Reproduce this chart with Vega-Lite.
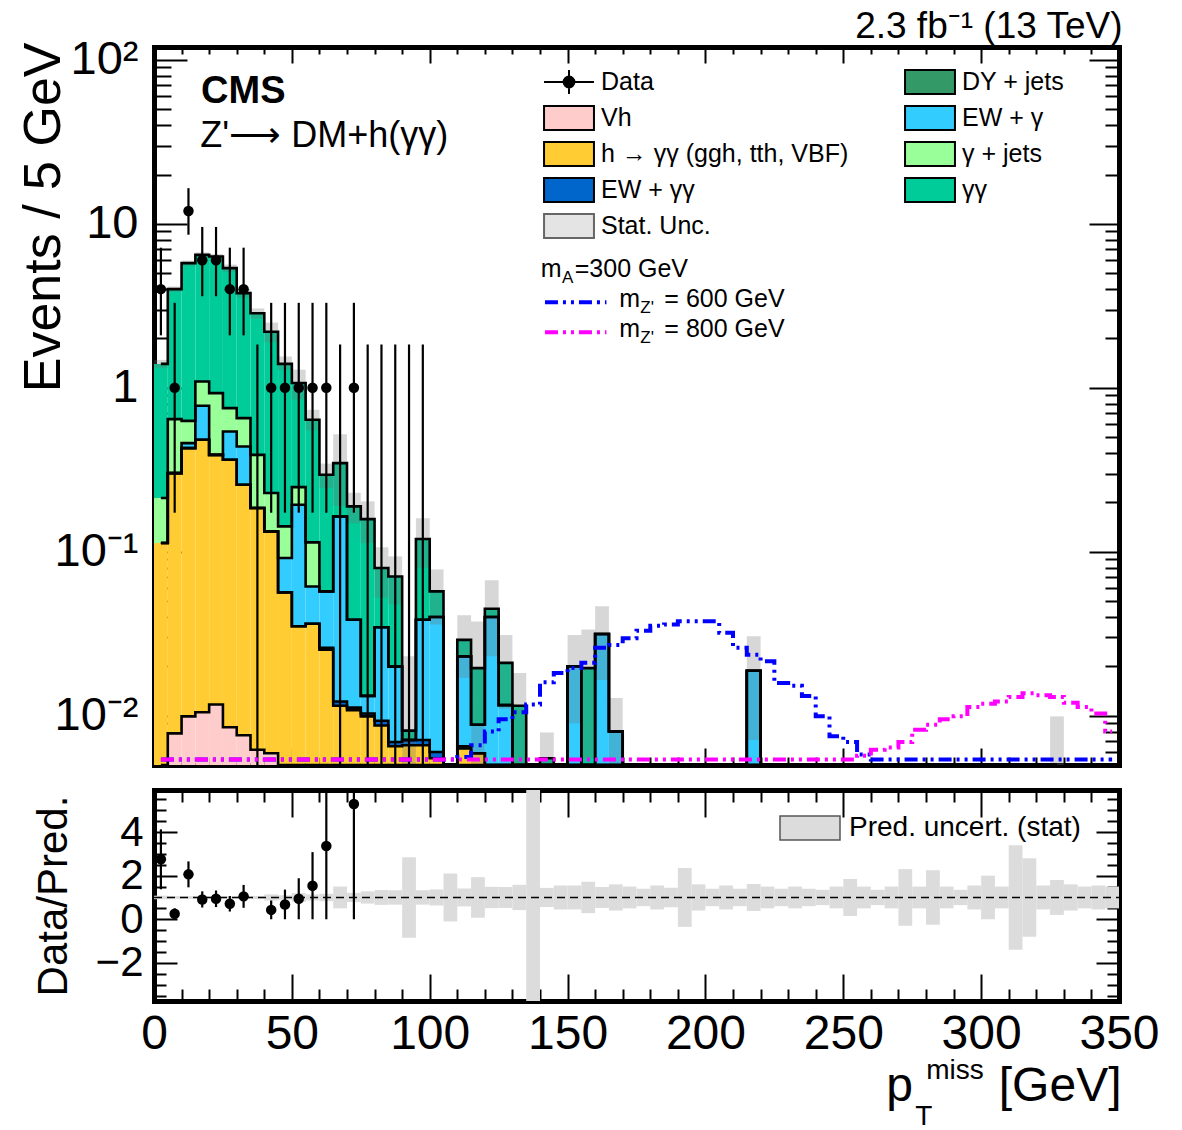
{
  "$schema": "https://vega.github.io/schema/vega-lite/v6.json",
  "background": "white",
  "padding": {"left": 16, "top": 7, "right": 4, "bottom": 4},
  "spacing": 25,
  "bounds": "flush",
  "config": {
    "font": "Liberation Sans",
    "view": {"stroke": null},
    "axis": {"grid": false, "labelColor": "black", "tickColor": "black", "domainColor": "black", "titleColor": "black", "labelFont": "Liberation Sans", "titleFont": "Liberation Sans", "titleFontWeight": "normal", "tickWidth": 2, "domainWidth": 5, "domainCap": "square", "zindex": 1, "labelFlush": false, "labelOverlap": false},
    "legend": {"labelFont": "Liberation Sans", "labelColor": "black"}
  },
  "resolve": {"scale": {"color": "independent"}, "legend": {"color": "independent"}},
  "datasets": {
    "bins": [
      {"c": 2.5, "a_vh": 0.004, "b_hgg": 0.109, "c_ewgg": 0, "d_ewg": 0, "e_gj": 0.0996, "g_gg": 1.187, "ulo": 1.32, "uhi": 1.48},
      {"c": 7.5, "a_vh": 0.0078, "b_hgg": 0.294, "c_ewgg": 0, "d_ewg": 0, "e_gj": 0.342, "g_gg": 3.356, "ulo": 3.85, "uhi": 4.15},
      {"c": 12.5, "a_vh": 0.0099, "b_hgg": 0.419, "c_ewgg": 0, "d_ewg": 0.031, "e_gj": 0.169, "g_gg": 5.131, "ulo": 5.55, "uhi": 5.97},
      {"c": 17.5, "a_vh": 0.0105, "b_hgg": 0.4715, "c_ewgg": 0, "d_ewg": 0.295, "e_gj": 0.316, "g_gg": 5.377, "ulo": 6.25, "uhi": 6.7},
      {"c": 22.5, "a_vh": 0.0117, "b_hgg": 0.378, "c_ewgg": 0, "d_ewg": 0, "e_gj": 0.538, "g_gg": 5.392, "ulo": 6.1, "uhi": 6.55},
      {"c": 27.5, "a_vh": 0.0085, "b_hgg": 0.3555, "c_ewgg": 0, "d_ewg": 0.1775, "e_gj": 0.2105, "g_gg": 4.618, "ulo": 5.1, "uhi": 5.65},
      {"c": 32.5, "a_vh": 0.0076, "b_hgg": 0.2484, "c_ewgg": 0, "d_ewg": 0.1826, "e_gj": 0.2144, "g_gg": 3.127, "ulo": 3.55, "uhi": 4.0},
      {"c": 37.5, "a_vh": 0.0062, "b_hgg": 0.1788, "c_ewgg": 0, "d_ewg": 0, "e_gj": 0.205, "g_gg": 2.46, "ulo": 2.65, "uhi": 3.05},
      {"c": 42.5, "a_vh": 0.0059, "b_hgg": 0.1271, "c_ewgg": 0, "d_ewg": 0, "e_gj": 0.095, "g_gg": 1.972, "ulo": 1.9, "uhi": 2.5},
      {"c": 47.5, "a_vh": 0.003, "b_hgg": 0.0535, "c_ewgg": 0, "d_ewg": 0.035, "e_gj": 0.0512, "g_gg": 1.257, "ulo": 1.29, "uhi": 1.55},
      {"c": 52.5, "a_vh": 0.002, "b_hgg": 0.0331, "c_ewgg": 0, "d_ewg": 0.1585, "e_gj": 0.0544, "g_gg": 0.822, "ulo": 0.85, "uhi": 1.29},
      {"c": 57.5, "a_vh": 0.002, "b_hgg": 0.0344, "c_ewgg": 0, "d_ewg": 0.025, "e_gj": 0.0526, "g_gg": 0.524, "ulo": 0.55, "uhi": 0.735},
      {"c": 62.5, "a_vh": 0.001, "b_hgg": 0.0243, "c_ewgg": 0.0006, "d_ewg": 0.0314, "e_gj": 0, "g_gg": 0.2377, "ulo": 0.245, "uhi": 0.345},
      {"c": 67.5, "a_vh": 0.001, "b_hgg": 0.0105, "c_ewgg": 0.0007, "d_ewg": 0.1518, "e_gj": 0, "g_gg": 0.183, "ulo": 0.19, "uhi": 0.52},
      {"c": 72.5, "a_vh": 0.001, "b_hgg": 0.0098, "c_ewgg": 0.0004, "d_ewg": 0.0273, "e_gj": 0, "g_gg": 0.1505, "ulo": 0.149, "uhi": 0.229},
      {"c": 77.5, "a_vh": 0.001, "b_hgg": 0.0089, "c_ewgg": 0.0004, "d_ewg": 0.0029, "e_gj": 0, "g_gg": 0.1448, "ulo": 0.113, "uhi": 0.203},
      {"c": 82.5, "a_vh": 0.001, "b_hgg": 0.0077, "c_ewgg": 0.0006, "d_ewg": 0.0253, "e_gj": 0, "g_gg": 0.0449, "ulo": 0.0525, "uhi": 0.1065},
      {"c": 87.5, "a_vh": 0.001, "b_hgg": 0.0055, "c_ewgg": 0.0004, "d_ewg": 0.013, "e_gj": 0, "g_gg": 0.0507, "ulo": 0.0477, "uhi": 0.0937},
      {"c": 92.5, "a_vh": 0.0005, "b_hgg": 0.0061, "c_ewgg": 0.0005, "d_ewg": 0, "e_gj": 0, "g_gg": 0.001, "ulo": 0, "uhi": 0.023},
      {"c": 97.5, "a_vh": 0.0005, "b_hgg": 0.0061, "c_ewgg": 0.0005, "d_ewg": 0.0314, "e_gj": 0, "g_gg": 0.081, "ulo": 0.08, "uhi": 0.16},
      {"c": 102.5, "a_vh": 0, "b_hgg": 0.0055, "c_ewgg": 0.0005, "d_ewg": 0.034, "e_gj": 0, "g_gg": 0.0173, "ulo": 0.036, "uhi": 0.078},
      {"c": 107.5, "a_vh": 0, "b_hgg": 0, "c_ewgg": 0, "d_ewg": 0, "e_gj": 0, "g_gg": 0},
      {"c": 112.5, "a_vh": 0.0005, "b_hgg": 0.0058, "c_ewgg": 0.0002, "d_ewg": 0.0165, "e_gj": 0, "g_gg": 0.006, "ulo": 0.017, "uhi": 0.041},
      {"c": 117.5, "a_vh": 0, "b_hgg": 0.0059, "c_ewgg": 0, "d_ewg": 0.0029, "e_gj": 0, "g_gg": 0.0107, "ulo": 0.0015, "uhi": 0.0375},
      {"c": 122.5, "a_vh": 0, "b_hgg": 0, "c_ewgg": 0, "d_ewg": 0.04, "e_gj": 0, "g_gg": 0.0049, "ulo": 0.023, "uhi": 0.067},
      {"c": 127.5, "a_vh": 0, "b_hgg": 0, "c_ewgg": 0, "d_ewg": 0.0116, "e_gj": 0, "g_gg": 0.0094, "ulo": 0.011, "uhi": 0.031},
      {"c": 132.5, "a_vh": 0, "b_hgg": 0, "c_ewgg": 0, "d_ewg": 0, "e_gj": 0, "g_gg": 0.0115, "ulo": 0.0048, "uhi": 0.0182},
      {"c": 137.5, "a_vh": 0, "b_hgg": 0, "c_ewgg": 0, "d_ewg": 0, "e_gj": 0, "g_gg": 0},
      {"c": 142.5, "a_vh": 0, "b_hgg": 0, "c_ewgg": 0, "d_ewg": 0, "e_gj": 0, "g_gg": 0.0055, "ulo": 0.0031, "uhi": 0.0079},
      {"c": 147.5, "a_vh": 0, "b_hgg": 0, "c_ewgg": 0, "d_ewg": 0, "e_gj": 0, "g_gg": 0},
      {"c": 152.5, "a_vh": 0, "b_hgg": 0, "c_ewgg": 0, "d_ewg": 0.02, "e_gj": 0, "g_gg": 0, "ulo": 0.009, "uhi": 0.031},
      {"c": 157.5, "a_vh": 0, "b_hgg": 0, "c_ewgg": 0, "d_ewg": 0, "e_gj": 0, "g_gg": 0.0195, "ulo": 0.0055, "uhi": 0.0335},
      {"c": 162.5, "a_vh": 0, "b_hgg": 0, "c_ewgg": 0, "d_ewg": 0.0315, "e_gj": 0, "g_gg": 0, "ulo": 0.0165, "uhi": 0.0465},
      {"c": 167.5, "a_vh": 0, "b_hgg": 0, "c_ewgg": 0, "d_ewg": 0.008, "e_gj": 0, "g_gg": 0, "ulo": 0.0032, "uhi": 0.0128},
      {"c": 172.5, "a_vh": 0, "b_hgg": 0, "c_ewgg": 0, "d_ewg": 0, "e_gj": 0, "g_gg": 0},
      {"c": 177.5, "a_vh": 0, "b_hgg": 0, "c_ewgg": 0, "d_ewg": 0, "e_gj": 0, "g_gg": 0},
      {"c": 182.5, "a_vh": 0, "b_hgg": 0, "c_ewgg": 0, "d_ewg": 0, "e_gj": 0, "g_gg": 0},
      {"c": 187.5, "a_vh": 0, "b_hgg": 0, "c_ewgg": 0, "d_ewg": 0, "e_gj": 0, "g_gg": 0},
      {"c": 192.5, "a_vh": 0, "b_hgg": 0, "c_ewgg": 0, "d_ewg": 0, "e_gj": 0, "g_gg": 0},
      {"c": 197.5, "a_vh": 0, "b_hgg": 0, "c_ewgg": 0, "d_ewg": 0, "e_gj": 0, "g_gg": 0},
      {"c": 202.5, "a_vh": 0, "b_hgg": 0, "c_ewgg": 0, "d_ewg": 0, "e_gj": 0, "g_gg": 0},
      {"c": 207.5, "a_vh": 0, "b_hgg": 0, "c_ewgg": 0, "d_ewg": 0, "e_gj": 0, "g_gg": 0},
      {"c": 212.5, "a_vh": 0, "b_hgg": 0, "c_ewgg": 0, "d_ewg": 0, "e_gj": 0, "g_gg": 0},
      {"c": 217.5, "a_vh": 0, "b_hgg": 0, "c_ewgg": 0, "d_ewg": 0.0188, "e_gj": 0, "g_gg": 0, "ulo": 0.0071, "uhi": 0.0305},
      {"c": 222.5, "a_vh": 0, "b_hgg": 0, "c_ewgg": 0, "d_ewg": 0, "e_gj": 0, "g_gg": 0},
      {"c": 327.5, "a_vh": 0, "b_hgg": 0, "c_ewgg": 0, "d_ewg": 0, "e_gj": 0, "g_gg": 0, "ulo": 0.001, "uhi": 0.0099}
    ],
    "obs": [
      {"c": 2.5, "n": 4, "lo": 2.09, "hi": 7.16},
      {"c": 7.5, "n": 1, "lo": 0.173, "hi": 3.3},
      {"c": 12.5, "n": 12, "lo": 8.59, "hi": 16.52},
      {"c": 17.5, "n": 6, "lo": 3.62, "hi": 9.58},
      {"c": 22.5, "n": 6, "lo": 3.62, "hi": 9.58},
      {"c": 27.5, "n": 4, "lo": 2.09, "hi": 7.16},
      {"c": 32.5, "n": 4, "lo": 2.09, "hi": 7.16},
      {"c": 37.5, "n": 0, "lo": 0, "hi": 1.84},
      {"c": 42.5, "n": 1, "lo": 0.173, "hi": 3.3},
      {"c": 47.5, "n": 1, "lo": 0.173, "hi": 3.3},
      {"c": 52.5, "n": 1, "lo": 0.173, "hi": 3.3},
      {"c": 57.5, "n": 1, "lo": 0.173, "hi": 3.3},
      {"c": 62.5, "n": 1, "lo": 0.173, "hi": 3.3},
      {"c": 67.5, "n": 0, "lo": 0, "hi": 1.84},
      {"c": 72.5, "n": 1, "lo": 0.173, "hi": 3.3},
      {"c": 77.5, "n": 0, "lo": 0, "hi": 1.84},
      {"c": 82.5, "n": 0, "lo": 0, "hi": 1.84},
      {"c": 87.5, "n": 0, "lo": 0, "hi": 1.84},
      {"c": 92.5, "n": 0, "lo": 0, "hi": 1.84},
      {"c": 97.5, "n": 0, "lo": 0, "hi": 1.84}
    ],
    "sig": [
      {"c": 2.5, "z600": 0.0054, "z800": 0.0054}, {"c": 7.5, "z600": 0.0054, "z800": 0.0054},
      {"c": 12.5, "z600": 0.0054, "z800": 0.0054}, {"c": 17.5, "z600": 0.0054, "z800": 0.0054},
      {"c": 22.5, "z600": 0.0054, "z800": 0.0054}, {"c": 27.5, "z600": 0.0054, "z800": 0.0054},
      {"c": 32.5, "z600": 0.0054, "z800": 0.0054}, {"c": 37.5, "z600": 0.0054, "z800": 0.0054},
      {"c": 42.5, "z600": 0.0054, "z800": 0.0054}, {"c": 47.5, "z600": 0.0054, "z800": 0.0054},
      {"c": 52.5, "z600": 0.0054, "z800": 0.0054}, {"c": 57.5, "z600": 0.0054, "z800": 0.0054},
      {"c": 62.5, "z600": 0.0054, "z800": 0.0054}, {"c": 67.5, "z600": 0.0054, "z800": 0.0054},
      {"c": 72.5, "z600": 0.0054, "z800": 0.0054}, {"c": 77.5, "z600": 0.0054, "z800": 0.0054},
      {"c": 82.5, "z600": 0.0054, "z800": 0.0054}, {"c": 87.5, "z600": 0.0054, "z800": 0.0054},
      {"c": 92.5, "z600": 0.0054, "z800": 0.0054}, {"c": 97.5, "z600": 0.0054, "z800": 0.0054},
      {"c": 102.5, "z600": 0.0054, "z800": 0.0054}, {"c": 107.5, "z600": 0.0054, "z800": 0.0054},
      {"c": 112.5, "z600": 0.0056, "z800": 0.0054}, {"c": 117.5, "z600": 0.0066, "z800": 0.0054},
      {"c": 122.5, "z600": 0.008, "z800": 0.0054}, {"c": 127.5, "z600": 0.0095, "z800": 0.0054},
      {"c": 132.5, "z600": 0.0105, "z800": 0.0054}, {"c": 137.5, "z600": 0.0117, "z800": 0.0054},
      {"c": 142.5, "z600": 0.016, "z800": 0.0054}, {"c": 147.5, "z600": 0.0182, "z800": 0.0054},
      {"c": 152.5, "z600": 0.0195, "z800": 0.0054}, {"c": 157.5, "z600": 0.021, "z800": 0.0054},
      {"c": 162.5, "z600": 0.026, "z800": 0.0054}, {"c": 167.5, "z600": 0.027, "z800": 0.0054},
      {"c": 172.5, "z600": 0.0297, "z800": 0.0054}, {"c": 177.5, "z600": 0.033, "z800": 0.0054},
      {"c": 182.5, "z600": 0.0354, "z800": 0.0054}, {"c": 187.5, "z600": 0.036, "z800": 0.0054},
      {"c": 192.5, "z600": 0.0376, "z800": 0.0054}, {"c": 197.5, "z600": 0.0376, "z800": 0.0054},
      {"c": 202.5, "z600": 0.0376, "z800": 0.0054}, {"c": 207.5, "z600": 0.032, "z800": 0.0054},
      {"c": 212.5, "z600": 0.026, "z800": 0.0054}, {"c": 217.5, "z600": 0.0235, "z800": 0.0054},
      {"c": 222.5, "z600": 0.0215, "z800": 0.0054}, {"c": 227.5, "z600": 0.0158, "z800": 0.0054},
      {"c": 232.5, "z600": 0.0152, "z800": 0.0054}, {"c": 237.5, "z600": 0.0132, "z800": 0.0054},
      {"c": 242.5, "z600": 0.0099, "z800": 0.0054}, {"c": 247.5, "z600": 0.0075, "z800": 0.0054},
      {"c": 252.5, "z600": 0.0069, "z800": 0.0054}, {"c": 257.5, "z600": 0.0058, "z800": 0.0057},
      {"c": 262.5, "z600": 0.0054, "z800": 0.0062}, {"c": 267.5, "z600": 0.0054, "z800": 0.0064},
      {"c": 272.5, "z600": 0.0054, "z800": 0.0069}, {"c": 277.5, "z600": 0.0054, "z800": 0.0082},
      {"c": 282.5, "z600": 0.0054, "z800": 0.0088}, {"c": 287.5, "z600": 0.0054, "z800": 0.0095},
      {"c": 292.5, "z600": 0.0054, "z800": 0.0099}, {"c": 297.5, "z600": 0.0054, "z800": 0.0113},
      {"c": 302.5, "z600": 0.0054, "z800": 0.0118}, {"c": 307.5, "z600": 0.0054, "z800": 0.0122},
      {"c": 312.5, "z600": 0.0054, "z800": 0.013}, {"c": 317.5, "z600": 0.0054, "z800": 0.0137},
      {"c": 322.5, "z600": 0.0054, "z800": 0.0133}, {"c": 327.5, "z600": 0.0054, "z800": 0.013},
      {"c": 332.5, "z600": 0.0054, "z800": 0.012}, {"c": 337.5, "z600": 0.0054, "z800": 0.0113},
      {"c": 342.5, "z600": 0.0054, "z800": 0.0103}, {"c": 347.5, "z600": 0.0054, "z800": 0.008}
    ],
    "ratio": [
      {"c": 2.5, "r": 2.75, "rlo": 1.375, "rhi": 4.125},
      {"c": 7.5, "r": 0.25, "rlo": 0, "rhi": 0.5},
      {"c": 12.5, "r": 2.06, "rlo": 1.465, "rhi": 2.655},
      {"c": 17.5, "r": 0.91, "rlo": 0.54, "rhi": 1.28},
      {"c": 22.5, "r": 0.94, "rlo": 0.56, "rhi": 1.32},
      {"c": 27.5, "r": 0.71, "rlo": 0.355, "rhi": 1.065},
      {"c": 32.5, "r": 1.05, "rlo": 0.525, "rhi": 1.575},
      {"c": 42.5, "r": 0.43, "rlo": 0, "rhi": 0.86},
      {"c": 47.5, "r": 0.68, "rlo": 0, "rhi": 1.36},
      {"c": 52.5, "r": 0.94, "rlo": 0, "rhi": 1.88},
      {"c": 57.5, "r": 1.54, "rlo": 0, "rhi": 3.08},
      {"c": 62.5, "r": 3.36, "rlo": 0, "rhi": 6.72},
      {"c": 72.5, "r": 5.29, "rlo": 0, "rhi": 10.58}
    ],
    "rband": [
      {"c": 2.5, "blo": 0.92, "bhi": 1.08}, {"c": 7.5, "blo": 0.94, "bhi": 1.06},
      {"c": 12.5, "blo": 0.94, "bhi": 1.06}, {"c": 17.5, "blo": 0.95, "bhi": 1.05},
      {"c": 22.5, "blo": 0.95, "bhi": 1.05}, {"c": 27.5, "blo": 0.95, "bhi": 1.05},
      {"c": 32.5, "blo": 0.94, "bhi": 1.06}, {"c": 37.5, "blo": 0.93, "bhi": 1.07},
      {"c": 42.5, "blo": 0.86, "bhi": 1.14}, {"c": 47.5, "blo": 0.9, "bhi": 1.1},
      {"c": 52.5, "blo": 0.8, "bhi": 1.2}, {"c": 57.5, "blo": 0.86, "bhi": 1.14},
      {"c": 62.5, "blo": 0.83, "bhi": 1.17}, {"c": 67.5, "blo": 0.5, "bhi": 1.5},
      {"c": 72.5, "blo": 0.79, "bhi": 1.21}, {"c": 77.5, "blo": 0.72, "bhi": 1.28},
      {"c": 82.5, "blo": 0.66, "bhi": 1.34}, {"c": 87.5, "blo": 0.67, "bhi": 1.33},
      {"c": 92.5, "blo": -0.85, "bhi": 2.85}, {"c": 97.5, "blo": 0.67, "bhi": 1.33},
      {"c": 102.5, "blo": 0.63, "bhi": 1.37}, {"c": 107.5, "blo": -0.1, "bhi": 2.1},
      {"c": 112.5, "blo": 0.59, "bhi": 1.41}, {"c": 117.5, "blo": 0.07, "bhi": 1.93},
      {"c": 122.5, "blo": 0.51, "bhi": 1.49}, {"c": 127.5, "blo": 0.52, "bhi": 1.48},
      {"c": 132.5, "blo": 0.42, "bhi": 1.58}, {"c": 137.5, "blo": -5, "bhi": 7},
      {"c": 142.5, "blo": 0.56, "bhi": 1.44}, {"c": 147.5, "blo": 0.45, "bhi": 1.55},
      {"c": 152.5, "blo": 0.45, "bhi": 1.55}, {"c": 157.5, "blo": 0.28, "bhi": 1.72},
      {"c": 162.5, "blo": 0.52, "bhi": 1.48}, {"c": 167.5, "blo": 0.4, "bhi": 1.6},
      {"c": 172.5, "blo": 0.5, "bhi": 1.5}, {"c": 177.5, "blo": 0.6, "bhi": 1.4},
      {"c": 182.5, "blo": 0.45, "bhi": 1.55}, {"c": 187.5, "blo": 0.55, "bhi": 1.45},
      {"c": 192.5, "blo": -0.35, "bhi": 2.35}, {"c": 197.5, "blo": 0.4, "bhi": 1.6},
      {"c": 202.5, "blo": 0.6, "bhi": 1.4}, {"c": 207.5, "blo": 0.45, "bhi": 1.55},
      {"c": 212.5, "blo": 0.6, "bhi": 1.4}, {"c": 217.5, "blo": 0.38, "bhi": 1.62},
      {"c": 222.5, "blo": 0.5, "bhi": 1.5}, {"c": 227.5, "blo": 0.6, "bhi": 1.4},
      {"c": 232.5, "blo": 0.5, "bhi": 1.5}, {"c": 237.5, "blo": 0.6, "bhi": 1.4},
      {"c": 242.5, "blo": 0.65, "bhi": 1.35}, {"c": 247.5, "blo": 0.5, "bhi": 1.5},
      {"c": 252.5, "blo": 0.15, "bhi": 1.85}, {"c": 257.5, "blo": 0.5, "bhi": 1.5},
      {"c": 262.5, "blo": 0.65, "bhi": 1.35}, {"c": 267.5, "blo": 0.5, "bhi": 1.5},
      {"c": 272.5, "blo": -0.3, "bhi": 2.3}, {"c": 277.5, "blo": 0.5, "bhi": 1.5},
      {"c": 282.5, "blo": -0.25, "bhi": 2.25}, {"c": 287.5, "blo": 0.5, "bhi": 1.5},
      {"c": 292.5, "blo": 0.65, "bhi": 1.35}, {"c": 297.5, "blo": 0.45, "bhi": 1.55},
      {"c": 302.5, "blo": 0, "bhi": 2}, {"c": 307.5, "blo": 0.5, "bhi": 1.5},
      {"c": 312.5, "blo": -1.4, "bhi": 3.4}, {"c": 317.5, "blo": -0.8, "bhi": 2.8},
      {"c": 322.5, "blo": 0.45, "bhi": 1.55}, {"c": 327.5, "blo": 0.2, "bhi": 1.8},
      {"c": 332.5, "blo": 0.4, "bhi": 1.6}, {"c": 337.5, "blo": 0.5, "bhi": 1.5},
      {"c": 342.5, "blo": 0.45, "bhi": 1.55}, {"c": 347.5, "blo": 0.5, "bhi": 1.5}
    ]
  },
  "vconcat": [
    {
      "width": 965,
      "height": 718,
      "resolve": {"axis": {"x": "independent", "y": "independent"}},
      "layer": [
        {
          "data": {"name": "bins"},
          "transform": [
            {"fold": ["a_vh", "b_hgg", "c_ewgg", "d_ewg", "e_gj", "g_gg"], "as": ["proc", "n"]},
            {"stack": "n", "groupby": ["c"], "sort": [{"field": "proc", "order": "ascending"}], "as": ["s0", "s1"]},
            {"bin": {"step": 5, "extent": [0, 350]}, "field": "c", "as": ["b0", "b1"]}
          ],
          "mark": {"type": "rect", "clip": true},
          "encoding": {
            "x": {"field": "b0", "type": "quantitative", "scale": {"domain": [0, 350], "nice": false, "zero": false},
                  "axis": {"orient": "bottom", "values": [0, 50, 100, 150, 200, 250, 300, 350], "labels": false, "tickSize": -17, "domain": true, "title": null}},
            "x2": {"field": "b1"},
            "y": {"field": "s1", "type": "quantitative", "scale": {"type": "log", "domain": [0.005, 120], "clamp": true, "nice": false},
                  "axis": {"orient": "left", "values": [0.01, 0.1, 1, 10, 100],
                           "labelExpr": "datum.value >= 100 ? '10²' : datum.value >= 10 ? '10' : datum.value >= 1 ? '1' : datum.value >= 0.1 ? '10⁻¹' : '10⁻²'",
                           "labelFontSize": 47, "labelPadding": 49, "labelBaseline": "middle", "tickSize": -33, "domain": true,
                           "title": "Events / 5 GeV", "titleFontSize": 52, "titleAngle": -90, "titleAlign": "right", "titleBaseline": "alphabetic", "titleX": -95, "titleY": -5}},
            "y2": {"field": "s0"},
            "color": {
              "field": "proc", "type": "nominal",
              "scale": {"domain": ["data", "a_vh", "b_hgg", "c_ewgg", "unc", "f_dy", "d_ewg", "e_gj", "g_gg"],
                        "range": ["#000000", "#ffcccc", "#ffcc33", "#0066cc", "#e4e4e4", "#339966", "#33ccff", "#99ff99", "#00cc99"]},
              "legend": {
                "orient": "none", "legendX": 402, "legendY": 22, "columns": 2, "columnPadding": 52, "rowPadding": 4,
                "title": null, "padding": 0, "labelFontSize": 25, "labelLimit": 400, "labelOffset": 19,
                "symbolType": {"expr": "datum.value === 'data' ? 'M-2.08,0H2.08M0,-1V1M-0.45,0A0.45,0.45,0,1,0,0.45,0A0.45,0.45,0,1,0,-0.45,0Z' : 'M-2.08,-1H2.08V1H-2.08Z'"},
                "symbolStrokeColor": {"expr": "datum.value === 'unc' ? '#666666' : '#000000'"},
                "symbolSize": 576, "symbolStrokeWidth": 2, "symbolOpacity": 1,
                "labelExpr": "{'data': 'Data', 'f_dy': 'DY + jets', 'a_vh': 'Vh', 'd_ewg': 'EW + γ', 'b_hgg': 'h → γγ (ggh, tth, VBF)', 'e_gj': 'γ + jets', 'c_ewgg': 'EW + γγ', 'g_gg': 'γγ', 'unc': 'Stat. Unc.'}[datum.value]"
              }
            }
          }
        },
        {
          "data": {"name": "bins"},
          "transform": [{"bin": {"step": 5, "extent": [0, 350]}, "field": "c", "as": ["b0", "b1"]}],
          "mark": {"type": "rect", "clip": true, "color": "#6e6e6e", "opacity": 0.28},
          "encoding": {
            "x": {"field": "b0", "type": "quantitative", "scale": {"domain": [0, 350], "nice": false, "zero": false},
                  "axis": {"orient": "top", "values": [0, 50, 100, 150, 200, 250, 300, 350], "labels": false, "tickSize": -16, "domain": true,
                           "title": "2.3 fb⁻¹ (13 TeV)", "titleFontSize": 37, "titleAngle": 0, "titleAlign": "right", "titleBaseline": "alphabetic", "titleX": 968, "titleY": -10}},
            "x2": {"field": "b1"},
            "y": {"field": "uhi", "type": "quantitative", "scale": {"type": "log", "domain": [0.005, 120], "clamp": true, "nice": false},
                  "axis": {"orient": "right", "values": [0.01, 0.1, 1, 10, 100], "labels": false, "tickSize": -30, "domain": true, "title": null}},
            "y2": {"field": "ulo"}
          }
        },
        {
          "data": {"name": "bins"},
          "transform": [
            {"fold": ["a_vh", "b_hgg", "c_ewgg", "d_ewg", "e_gj", "g_gg"], "as": ["proc", "n"]},
            {"stack": "n", "groupby": ["c"], "sort": [{"field": "proc", "order": "ascending"}], "as": ["s0", "s1"]}
          ],
          "mark": {"type": "line", "interpolate": "step", "color": "black", "strokeWidth": 2.6, "clip": true},
          "encoding": {
            "x": {"field": "c", "type": "quantitative", "scale": {"domain": [0, 350], "nice": false, "zero": false},
                  "axis": {"orient": "bottom", "values": [10, 20, 30, 40, 60, 70, 80, 90, 110, 120, 130, 140, 160, 170, 180, 190, 210, 220, 230, 240, 260, 270, 280, 290, 310, 320, 330, 340], "labels": false, "tickSize": -8, "domain": false, "title": null}},
            "y": {"field": "s1", "type": "quantitative", "scale": {"type": "log", "domain": [0.005, 120], "clamp": true, "nice": false},
                  "axis": {"orient": "left", "values": [0.006, 0.007, 0.008, 0.009, 0.02, 0.03, 0.04, 0.05, 0.06, 0.07, 0.08, 0.09, 0.2, 0.3, 0.4, 0.5, 0.6, 0.7, 0.8, 0.9, 2, 3, 4, 5, 6, 7, 8, 9, 20, 30, 40, 50, 60, 70, 80, 90], "labels": false, "tickSize": -17, "domain": false, "title": null}},
            "detail": {"field": "proc"}
          }
        },
        {
          "data": {"name": "obs"},
          "mark": {"type": "rule", "color": "black", "strokeWidth": 2.2, "clip": true},
          "encoding": {
            "x": {"field": "c", "type": "quantitative", "scale": {"domain": [0, 350], "nice": false, "zero": false},
                  "axis": {"orient": "top", "values": [10, 20, 30, 40, 60, 70, 80, 90, 110, 120, 130, 140, 160, 170, 180, 190, 210, 220, 230, 240, 260, 270, 280, 290, 310, 320, 330, 340], "labels": false, "tickSize": -7, "domain": false, "title": null}},
            "y": {"field": "hi", "type": "quantitative", "scale": {"type": "log", "domain": [0.005, 120], "clamp": true, "nice": false},
                  "axis": {"orient": "right", "values": [0.006, 0.007, 0.008, 0.009, 0.02, 0.03, 0.04, 0.05, 0.06, 0.07, 0.08, 0.09, 0.2, 0.3, 0.4, 0.5, 0.6, 0.7, 0.8, 0.9, 2, 3, 4, 5, 6, 7, 8, 9, 20, 30, 40, 50, 60, 70, 80, 90], "labels": false, "tickSize": -14, "domain": false, "title": null}},
            "y2": {"field": "lo"}
          }
        },
        {
          "data": {"name": "obs"},
          "transform": [{"filter": "datum.n > 0"}],
          "mark": {"type": "point", "shape": "circle", "filled": true, "size": 110, "color": "black", "opacity": 1, "clip": true},
          "encoding": {
            "x": {"field": "c", "type": "quantitative", "scale": {"domain": [0, 350], "nice": false, "zero": false}, "axis": null},
            "y": {"field": "n", "type": "quantitative", "scale": {"type": "log", "domain": [0.005, 120], "clamp": true, "nice": false}, "axis": null}
          }
        },
        {
          "data": {"name": "sig"},
          "transform": [{"fold": ["z600", "z800"], "as": ["mass", "v"]}],
          "mark": {"type": "line", "interpolate": "step", "strokeWidth": 4, "strokeDash": [13, 5, 3, 5, 3, 5], "clip": true},
          "encoding": {
            "x": {"field": "c", "type": "quantitative", "scale": {"domain": [0, 350], "nice": false, "zero": false}, "axis": null},
            "y": {"field": "v", "type": "quantitative", "scale": {"type": "log", "domain": [0.005, 120], "clamp": true, "nice": false}, "axis": null},
            "stroke": {"field": "mass", "type": "nominal", "scale": {"domain": ["z600", "z800"], "range": ["#0000ff", "#ff00ff"]}, "legend": null}
          }
        },
        {
          "data": {"values": [{}]},
          "mark": {"type": "text", "text": "CMS", "fontSize": 38, "fontWeight": "bold", "align": "left", "baseline": "alphabetic", "color": "black"},
          "encoding": {"x": {"datum": 17.06, "axis": null}, "y": {"datum": 54.4, "axis": null}}
        },
        {
          "data": {"values": [{}]},
          "mark": {"type": "text", "text": "Z'⟶ DM+h(γγ)", "fontSize": 36, "align": "left", "baseline": "alphabetic", "color": "black"},
          "encoding": {"x": {"datum": 16.8, "axis": null}, "y": {"datum": 29.6, "axis": null}}
        },
        {
          "data": {"values": [{}]},
          "mark": {"type": "text", "text": "m", "fontSize": 25, "align": "left", "baseline": "alphabetic", "color": "black"},
          "encoding": {"x": {"datum": 140.3, "axis": null}, "y": {"datum": 4.772, "axis": null}}
        },
        {
          "data": {"values": [{}]},
          "mark": {"type": "text", "text": "A", "fontSize": 17, "align": "left", "baseline": "alphabetic", "color": "black"},
          "encoding": {"x": {"datum": 148.0, "axis": null}, "y": {"datum": 4.368, "axis": null}}
        },
        {
          "data": {"values": [{}]},
          "mark": {"type": "text", "text": "=300 GeV", "fontSize": 25, "align": "left", "baseline": "alphabetic", "color": "black"},
          "encoding": {"x": {"datum": 152.6, "axis": null}, "y": {"datum": 4.772, "axis": null}}
        },
        {
          "data": {"values": [{}]},
          "mark": {"type": "rule", "color": "#0000ff", "strokeWidth": 4, "strokeDash": [13, 5, 3, 5, 3, 5]},
          "encoding": {"x": {"datum": 141.8, "axis": null}, "x2": {"datum": 164.1}, "y": {"datum": 3.331, "axis": null}}
        },
        {
          "data": {"values": [{}]},
          "mark": {"type": "text", "text": "m", "fontSize": 25, "align": "left", "baseline": "alphabetic", "color": "black"},
          "encoding": {"x": {"datum": 168.7, "axis": null}, "y": {"datum": 3.131, "axis": null}}
        },
        {
          "data": {"values": [{}]},
          "mark": {"type": "text", "text": "Z'", "fontSize": 17, "align": "left", "baseline": "alphabetic", "color": "black"},
          "encoding": {"x": {"datum": 176.4, "axis": null}, "y": {"datum": 2.866, "axis": null}}
        },
        {
          "data": {"values": [{}]},
          "mark": {"type": "text", "text": "= 600 GeV", "fontSize": 25, "align": "left", "baseline": "alphabetic", "color": "black"},
          "encoding": {"x": {"datum": 185.1, "axis": null}, "y": {"datum": 3.131, "axis": null}}
        },
        {
          "data": {"values": [{}]},
          "mark": {"type": "rule", "color": "#ff00ff", "strokeWidth": 4, "strokeDash": [13, 5, 3, 5, 3, 5]},
          "encoding": {"x": {"datum": 141.8, "axis": null}, "x2": {"datum": 164.1}, "y": {"datum": 2.186, "axis": null}}
        },
        {
          "data": {"values": [{}]},
          "mark": {"type": "text", "text": "m", "fontSize": 25, "align": "left", "baseline": "alphabetic", "color": "black"},
          "encoding": {"x": {"datum": 168.7, "axis": null}, "y": {"datum": 2.055, "axis": null}}
        },
        {
          "data": {"values": [{}]},
          "mark": {"type": "text", "text": "Z'", "fontSize": 17, "align": "left", "baseline": "alphabetic", "color": "black"},
          "encoding": {"x": {"datum": 176.4, "axis": null}, "y": {"datum": 1.881, "axis": null}}
        },
        {
          "data": {"values": [{}]},
          "mark": {"type": "text", "text": "= 800 GeV", "fontSize": 25, "align": "left", "baseline": "alphabetic", "color": "black"},
          "encoding": {"x": {"datum": 185.1, "axis": null}, "y": {"datum": 2.055, "axis": null}}
        }
      ]
    },
    {
      "width": 965,
      "height": 211,
      "resolve": {"axis": {"x": "independent", "y": "independent"}},
      "layer": [
        {
          "data": {"name": "rband"},
          "transform": [{"bin": {"step": 5, "extent": [0, 350]}, "field": "c", "as": ["b0", "b1"]}],
          "mark": {"type": "rect", "clip": true},
          "encoding": {
            "x": {"field": "b0", "type": "quantitative", "scale": {"domain": [0, 350], "nice": false, "zero": false},
                  "axis": {"orient": "bottom", "values": [0, 50, 100, 150, 200, 250, 300, 350], "labelFontSize": 48, "labelPadding": 36, "labelBaseline": "top", "tickSize": -27, "domain": true, "title": null}},
            "x2": {"field": "b1"},
            "y": {"field": "bhi", "type": "quantitative", "scale": {"domain": [-3.75, 5.93], "nice": false, "zero": false},
                  "axis": {"orient": "left", "values": [-2, 0, 2, 4], "labelFontSize": 42, "labelPadding": 34, "labelBaseline": "middle", "tickSize": -23, "domain": true,
                           "title": "Data/Pred.", "titleFontSize": 42, "titleAngle": -90, "titleAlign": "center", "titleBaseline": "alphabetic", "titleX": -88, "titleY": 105.5}},
            "y2": {"field": "blo"},
            "color": {
              "datum": "Pred. uncert. (stat)", "type": "nominal",
              "scale": {"domain": ["Pred. uncert. (stat)"], "range": ["#dcdcdc"]},
              "legend": {"orient": "none", "legendX": 642, "legendY": 24, "title": null, "padding": 0, "labelFontSize": 28, "labelLimit": 400, "labelOffset": 25,
                         "symbolType": "M-2.5,-1H2.5V1H-2.5Z", "symbolSize": 576, "symbolStrokeColor": "#555555", "symbolStrokeWidth": 1.5, "symbolOpacity": 1}
            }
          }
        },
        {
          "data": {"values": [{}]},
          "mark": {"type": "rule", "color": "black", "strokeWidth": 1.5, "strokeDash": [8, 5]},
          "encoding": {
            "x": {"datum": 0, "scale": {"domain": [0, 350], "nice": false, "zero": false},
                  "axis": {"orient": "top", "values": [10, 20, 30, 40, 60, 70, 80, 90, 110, 120, 130, 140, 160, 170, 180, 190, 210, 220, 230, 240, 260, 270, 280, 290, 310, 320, 330, 340], "labels": false, "tickSize": -12, "domain": false, "title": null}},
            "x2": {"datum": 350},
            "y": {"datum": 1, "scale": {"domain": [-3.75, 5.93], "nice": false, "zero": false},
                  "axis": {"orient": "right", "values": [-3.5, -3, -2.5, -1.5, -1, -0.5, 0.5, 1, 1.5, 2.5, 3, 3.5, 4.5, 5, 5.5], "labels": false, "tickSize": -12, "domain": false, "title": null}}
          }
        },
        {
          "data": {"name": "ratio"},
          "mark": {"type": "rule", "color": "black", "strokeWidth": 2.2, "clip": true},
          "encoding": {
            "x": {"field": "c", "type": "quantitative", "scale": {"domain": [0, 350], "nice": false, "zero": false},
                  "axis": {"orient": "top", "values": [0, 50, 100, 150, 200, 250, 300, 350], "labels": false, "tickSize": -27, "domain": true, "title": null}},
            "y": {"field": "rhi", "type": "quantitative", "scale": {"domain": [-3.75, 5.93], "nice": false, "zero": false},
                  "axis": {"orient": "right", "values": [-2, 0, 2, 4], "labels": false, "tickSize": -23, "domain": true, "title": null}},
            "y2": {"field": "rlo"}
          }
        },
        {
          "data": {"name": "ratio"},
          "mark": {"type": "point", "shape": "circle", "filled": true, "size": 110, "color": "black", "opacity": 1, "clip": true},
          "encoding": {
            "x": {"field": "c", "type": "quantitative", "scale": {"domain": [0, 350], "nice": false, "zero": false},
                  "axis": {"orient": "bottom", "values": [10, 20, 30, 40, 60, 70, 80, 90, 110, 120, 130, 140, 160, 170, 180, 190, 210, 220, 230, 240, 260, 270, 280, 290, 310, 320, 330, 340], "labels": false, "tickSize": -12, "domain": false, "title": null}},
            "y": {"field": "r", "type": "quantitative", "scale": {"domain": [-3.75, 5.93], "nice": false, "zero": false},
                  "axis": {"orient": "left", "values": [-3.5, -3, -2.5, -1.5, -1, -0.5, 0.5, 1, 1.5, 2.5, 3, 3.5, 4.5, 5, 5.5], "labels": false, "tickSize": -12, "domain": false, "title": null}}
          }
        },
        {
          "data": {"values": [{}]},
          "mark": {"type": "text", "text": "p", "fontSize": 48, "align": "left", "baseline": "alphabetic", "color": "black"},
          "encoding": {"x": {"datum": 265.6, "axis": null}, "y": {"datum": -8.33, "axis": null}}
        },
        {
          "data": {"values": [{}]},
          "mark": {"type": "text", "text": "miss", "fontSize": 28, "align": "left", "baseline": "alphabetic", "color": "black"},
          "encoding": {"x": {"datum": 280.1, "axis": null}, "y": {"datum": -7.35, "axis": null}}
        },
        {
          "data": {"values": [{}]},
          "mark": {"type": "text", "text": "T", "fontSize": 28, "align": "left", "baseline": "alphabetic", "color": "black"},
          "encoding": {"x": {"datum": 276.1, "axis": null}, "y": {"datum": -9.42, "axis": null}}
        },
        {
          "data": {"values": [{}]},
          "mark": {"type": "text", "text": "[GeV]", "fontSize": 48, "align": "right", "baseline": "alphabetic", "color": "black"},
          "encoding": {"x": {"datum": 350.9, "axis": null}, "y": {"datum": -8.33, "axis": null}}
        }
      ]
    }
  ]
}
